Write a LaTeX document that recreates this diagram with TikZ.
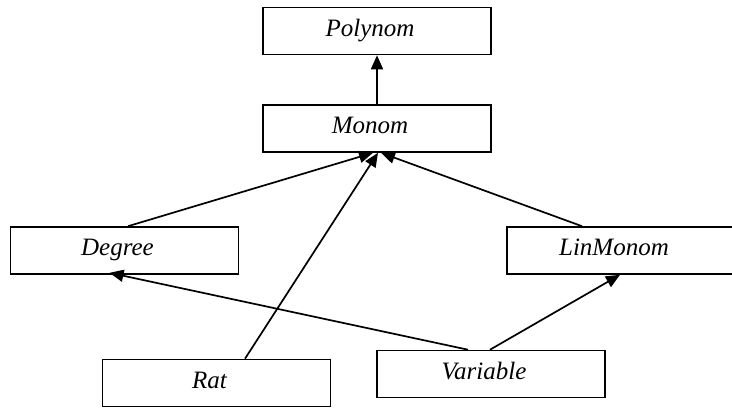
\documentclass[tikz,border=0pt]{standalone}
\usepackage{fontspec}
\setmainfont{Liberation Serif}
\usetikzlibrary{arrows.meta}
\begin{document}
\begin{tikzpicture}[x=1pt,y=-1pt,
  box/.style={draw, line width=1.6pt, rectangle, minimum width=228pt, minimum height=47pt, inner sep=0pt},
  lbl/.style={xshift=-7pt, yshift=1pt, text height=17pt, text depth=5pt, font=\fontsize{25}{28}\selectfont\itshape},
  conn/.style={line width=1.7pt, -{Triangle[length=14pt,width=12pt]}}]
\useasboundingbox (0,0) rectangle (732,408);
\node[box, label={[lbl]center:Polynom}] (poly) at (377,31) {};
\node[box, label={[lbl]center:Monom}] (mono) at (377,128.5) {};
\node[box, label={[lbl]center:Degree}] (deg) at (124.5,250.5) {};
\node[box, label={[lbl]center:LinMonom}] (lin) at (621,250.5) {};
\node[box, label={[lbl]center:Rat}] (rat) at (216.5,383) {};
\node[box, label={[lbl]center:Variable}] (var) at (491,374) {};
\draw[conn] (mono.north) -- (poly.south);
\draw[conn] ([xshift=3.5pt]deg.north) -- ([xshift=-4pt]mono.south);
\draw[conn] ([xshift=28.5pt]rat.north) -- ([xshift=1pt]mono.south);
\draw[conn] ([xshift=-39pt]lin.north) -- ([xshift=4pt]mono.south);
\draw[conn] ([xshift=-23pt]var.north) -- ([xshift=-15pt,yshift=2pt]deg.south);
\draw[conn] ([xshift=-1pt]var.north) -- ([xshift=-1pt]lin.south);
\end{tikzpicture}
\end{document}
